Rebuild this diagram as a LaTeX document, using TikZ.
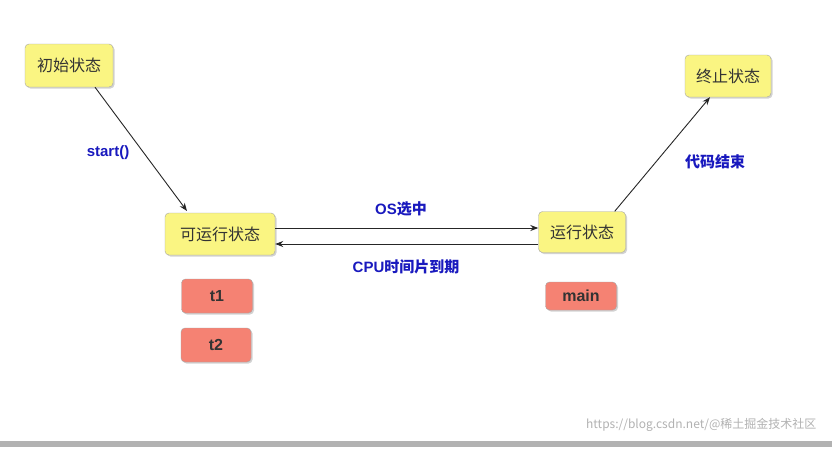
\documentclass[tikz,border=0pt]{standalone}
\usepackage{fontspec}
\setmainfont{Liberation Sans}
\newfontfamily\cjk{Noto Sans CJK SC}
\usetikzlibrary{arrows.meta,shadows}
\definecolor{ybox}{RGB}{250,245,130}
\definecolor{rbox}{RGB}{245,130,115}
\definecolor{lblue}{RGB}{25,25,190}
\tikzset{
  ystate/.style={draw=gray!70, fill=ybox, rounded corners=4pt, drop shadow={shadow xshift=1.5pt,shadow yshift=-1.5pt,opacity=0.35}, font=\cjk\fontsize{16}{18}\selectfont, text=black!80, inner sep=0pt},
  rstate/.style={draw=gray!70, fill=rbox, rounded corners=4pt, drop shadow={shadow xshift=1.5pt,shadow yshift=-1.5pt,opacity=0.35}, font=\bfseries\fontsize{16}{18}\selectfont, text=black!80, inner sep=0pt},
  conn/.style={-{Stealth[length=8pt,width=6pt]}, line width=0.9pt, black!85},
  lbl/.style={text=lblue, font=\bfseries\fontsize{15}{17}\selectfont}
}
\begin{document}
\begin{tikzpicture}[x=1pt,y=-1pt]
\useasboundingbox (0,0) rectangle (832,450);
\fill[white] (0,0) rectangle (832,450);
\node[ystate, minimum width=88pt, minimum height=43pt] (init) at (69,65.5) {初始状态};
\node[ystate, minimum width=86pt, minimum height=42pt] (term) at (728,76) {终止状态};
\node[ystate, minimum width=110pt, minimum height=42pt] (ready) at (220,234) {可运行状态};
\node[ystate, minimum width=87pt, minimum height=41pt] (run) at (582,232) {运行状态};
\node[rstate, minimum width=71pt, minimum height=34pt] (t1) at (217,296) {t1};
\node[rstate, minimum width=70pt, minimum height=34pt] (t2) at (216,345) {t2};
\node[rstate, minimum width=71pt, minimum height=28pt] (main) at (581,296) {main};
\coordinate (a1) at (95,87); \coordinate (a2) at (187,211);
\draw[conn] (init.south -| a1) -- (a2);
\draw[conn] ([xshift=-11pt]run.north east) -- ([xshift=-18pt]term.south);
\draw[conn] ([yshift=6pt]ready.east) -- ([yshift=4pt]run.west);
\draw[conn] ([yshift=-12pt]run.west) -- ([yshift=-10pt]ready.east);
\node[lbl] (l1) at (108,153) {start()};
\node[lbl] (l2) at (715,162) {\cjk 代码结束};
\node[lbl] (l3) at (401,209) {OS\cjk 选中};
\node[lbl] (l4) at (406,267) {CPU\cjk 时间片到期};
\fill[gray!60] (0,441) rectangle (832,447);
\node[text=gray!60, font=\cjk\fontsize{12}{14}\selectfont, anchor=east] (wm) at (820,425) {https://blog.csdn.net/@稀土掘金技术社区};
\end{tikzpicture}
\end{document}
